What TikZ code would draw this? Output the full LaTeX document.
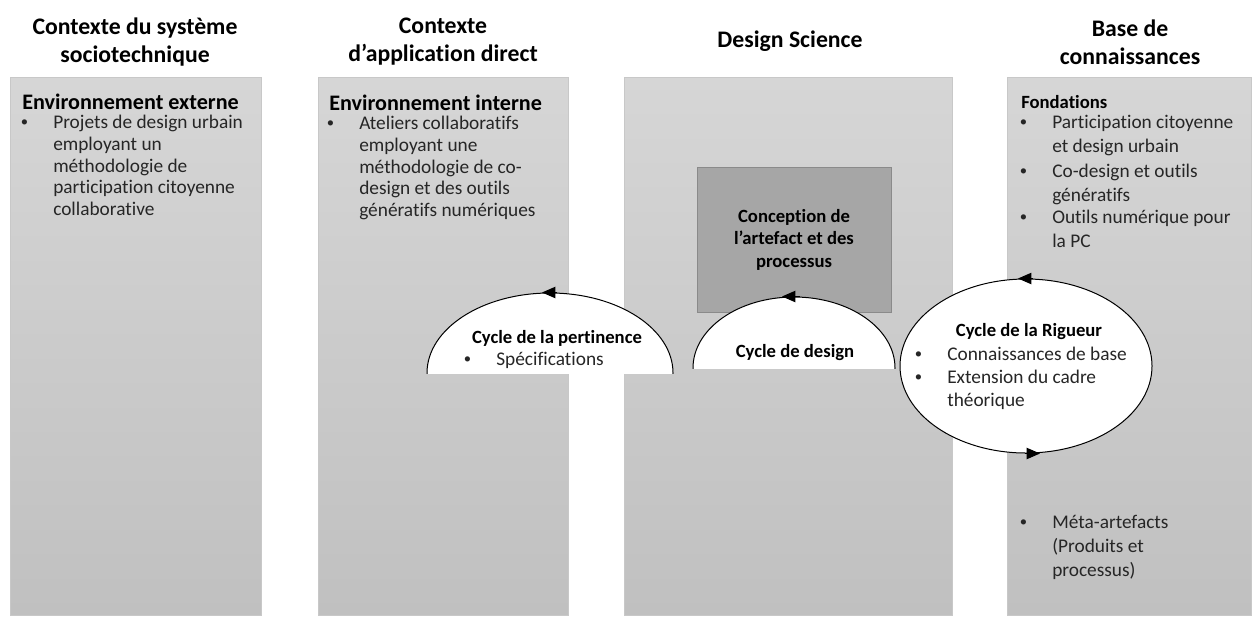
\documentclass[tikz,border=0pt]{standalone}
\usepackage{fontspec}
\setmainfont{Carlito}[Ligatures=NoCommon]
\usetikzlibrary{arrows.meta,shapes.geometric,fit}
\definecolor{coltop}{RGB}{214,214,214}
\definecolor{colbot}{RGB}{192,192,192}
\definecolor{colline}{RGB}{200,200,200}
\definecolor{boxfill}{RGB}{166,166,166}
\definecolor{boxline}{RGB}{138,138,138}
\definecolor{txt}{RGB}{38,38,38}
\begin{document}
\begin{tikzpicture}[x=0.75pt,y=-0.75pt,>={Triangle[length=10pt,width=8.5pt]}]
\tikzstyle{col}=[draw=colline,line width=0.5pt,top color=coltop,bottom color=colbot,inner sep=0pt]
\tikzstyle{hd}=[align=center,font=\fontsize{17.8}{21}\selectfont\bfseries]
\tikzstyle{sub}=[anchor=west,inner sep=0pt,font=\fontsize{16.6}{19}\selectfont\bfseries]
\tikzstyle{bold}=[inner sep=0pt,align=center,font=\fontsize{14}{16.9}\selectfont\bfseries]
\tikzstyle{bul}=[inner sep=0pt,text=txt,font=\fontsize{11}{13}\selectfont]
\tikzstyle{itm}=[anchor=north west,align=left,inner sep=0pt,text=txt,font=\fontsize{14.5}{16.3}\selectfont]
\tikzstyle{cyc}=[ellipse,draw,fill=white,line width=0.75pt,inner sep=0pt]
\useasboundingbox (0,0) rectangle (1255,618);
\foreach \n/\xa/\xb in {sys/10/261,app/318/568,ds/624/952,kb/1007/1251} \node[col,fit={(\xa,77) (\xb,615)}] (\n) {};
\node[hd] (hsys) at (135,42) {Contexte du système\\sociotechnique};
\node[hd] (happ) at (443,42) {Contexte\\d’application direct};
\node[hd] (hds) at (790,41) {Design Science};
\node[hd] (hkb) at (1130,42) {Base de\\connaissances};
\node[sub] (ext) at (22,102) {Environnement externe};
\node[sub] (int) at (329,103) {Environnement interne};
\node[sub,font=\fontsize{14}{17}\selectfont\bfseries] (fond) at (1021,102) {Fondations};
\foreach \n/\x/\y/\t in {proj/53/123/{Projets de design urbain\\employant un\\méthodologie de\\participation citoyenne\\collaborative},atel/359/124/{Ateliers collaboratifs\\employant une\\méthodologie de co-\\design et des outils\\génératifs numériques}} {\node[bul] (b\n) at (\x-28.5,\y) {\textbullet}; \node[itm] (\n) at (\x,\y-8) {\t};}
\foreach \n/\y/\t in {part/123/{Participation citoyenne\\et design urbain},codes/172/{Co-design et outils\\génératifs},outn/218/{Outils numérique pour\\la PC},meta/523/{Méta-artefacts\\(Produits et\\processus)}} {\node[bul] (b\n) at (1023.5,\y) {\textbullet}; \node[itm,font=\fontsize{14.5}{18}\selectfont] (\n) at (1052,\y-8) {\t};}
\node[fit={(697,167) (891,312)},fill=boxfill,draw=boxline,inner sep=0pt] (art) {};
\node[bold] (artl) at (art) {Conception de\\l’artefact et des\\processus};
\begin{scope}
\clip (0,0) rectangle (1255,373);
\node[cyc,minimum width=184.5pt,minimum height=120pt] (rel) at (550,373) {};
\end{scope}
\begin{scope}
\clip (0,0) rectangle (1255,368);
\node[cyc,minimum width=151.5pt,minimum height=106.5pt] (des) at (794,368) {};
\end{scope}
\node[cyc,minimum width=189pt,minimum height=130.5pt] (rig) at (1026,366) {};
\draw[->,line width=0.75pt] ([xshift=5.5pt]rel.north) -- ([xshift=-6pt]rel.north);
\draw[->,line width=0.75pt] ([xshift=4.5pt]des.north) -- ([xshift=-9pt]des.north);
\draw[->,line width=0.75pt] ([xshift=5.5pt]rig.north) -- ([xshift=-6pt]rig.north);
\draw[->,line width=0.75pt] ([xshift=-1pt]rig.south) -- ([xshift=10.5pt]rig.south);
\node[bold] (relt) at (557,338) {Cycle de la pertinence};
\node[bul] (bspec) at (467.5,360) {\textbullet};
\node[itm] (spec) at (496,352) {Spécifications};
\node[bold] (dest) at (795,353) {Cycle de design};
\node[bold] (rigt) at (1029,332) {Cycle de la Rigueur};
\foreach \n/\y/\t in {conn/355/{Connaissances de base},cadre/378/{Extension du cadre\\théorique}} {\node[bul] (b\n) at (918.5,\y) {\textbullet}; \node[itm,font=\fontsize{14.5}{17.25}\selectfont] (\n) at (947,\y-8) {\t};}
\end{tikzpicture}
\end{document}
